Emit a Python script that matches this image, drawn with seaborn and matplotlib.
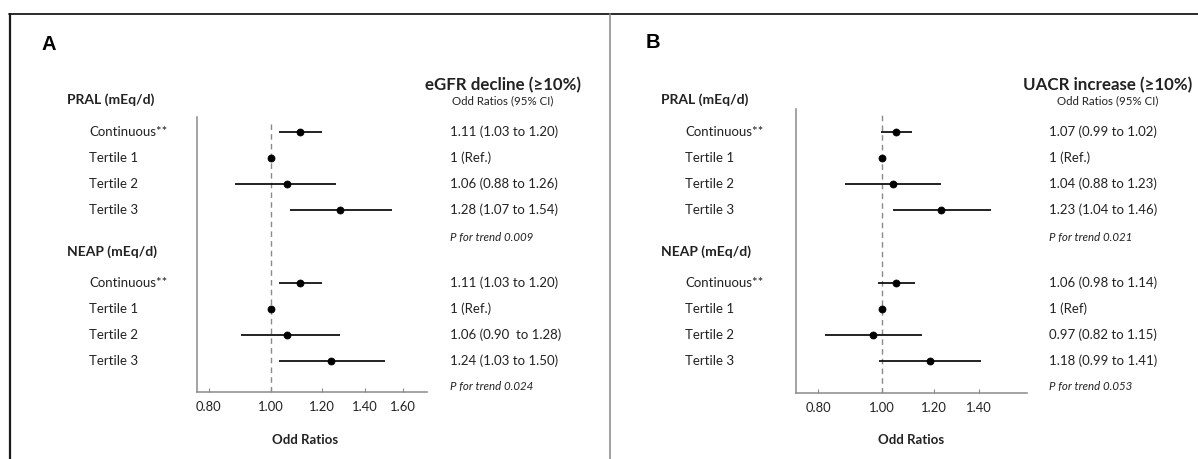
import numpy as np
import pandas as pd
import matplotlib
matplotlib.use('Agg')
import matplotlib.pyplot as plt
from matplotlib.lines import Line2D
import seaborn as sns

# veriler
row_labels = ['Continuous**', 'Tertile 1', 'Tertile 2', 'Tertile 3']
group_labels = ['PRAL (mEq/d)', 'NEAP (mEq/d)']

egfr_or = [1.11, 1.00, 1.06, 1.28, 1.11, 1.00, 1.06, 1.24]
egfr_lo = [1.03, np.nan, 0.88, 1.07, 1.03, np.nan, 0.90, 1.03]
egfr_hi = [1.20, np.nan, 1.26, 1.54, 1.20, np.nan, 1.28, 1.50]
egfr_txt = ['1.11 (1.03 to 1.20)', '1 (Ref.)', '1.06 (0.88 to 1.26)', '1.28 (1.07 to 1.54)',
            '1.11 (1.03 to 1.20)', '1 (Ref.)', '1.06 (0.90  to 1.28)', '1.24 (1.03 to 1.50)']
egfr_trend = ['P for trend 0.009', 'P for trend 0.024']
egfr_ticks = [0.80, 1.00, 1.20, 1.40, 1.60]

uacr_or = [1.05, 1.00, 1.04, 1.23, 1.05, 1.00, 0.97, 1.18]
uacr_lo = [0.995, np.nan, 0.88, 1.04, 0.985, np.nan, 0.82, 0.99]
uacr_hi = [1.11, np.nan, 1.23, 1.46, 1.12, np.nan, 1.15, 1.41]
uacr_txt = ['1.07 (0.99 to 1.02)', '1 (Ref.)', '1.04 (0.88 to 1.23)', '1.23 (1.04 to 1.46)',
            '1.06 (0.98 to 1.14)', '1 (Ref)', '0.97 (0.82 to 1.15)', '1.18 (0.99 to 1.41)']
uacr_trend = ['P for trend 0.021', 'P for trend 0.053']
uacr_ticks = [0.80, 1.00, 1.20, 1.40]

W, H = 1198, 459
sns.set_theme(style='ticks')
plt.rcParams['font.family'] = ['Lato', 'DejaVu Sans']
TXT = '#222222'
GRAY = '#8a8a8a'

# satir yerlesimi (1 birim = 26 px)
row_pos = [0, 1, 2, 3, 5.8, 6.8, 7.8, 8.8]
head_pos = [-1.23, 4.6]
trend_pos = [4.04, 9.77]


def fx(px):
    return px / W


def fy(py):
    return 1 - py / H


fig = plt.figure(figsize=(W / 100, H / 100), dpi=100)


def panel(geo, odds, lo, hi, texts, trends, ticks, letter, title):
    left, right, top, bottom, one_px, scale = geo['axis']
    ax = fig.add_axes([fx(left), fy(bottom), fx(right - left), (bottom - top) / H])
    ax.set_xscale('log')
    ax.set_xlim(np.exp((left - one_px) / scale), np.exp((right - one_px) / scale))
    ax.set_ylim((bottom - 132) / 26, (top - 132) / 26)

    df = pd.DataFrame({'pos': row_pos, 'odds': odds, 'lo': lo, 'hi': hi})
    ci = df.dropna()
    ax.hlines(ci['pos'], ci['lo'], ci['hi'], color='#111111', lw=1.3, zorder=2)
    sns.scatterplot(data=df, x='odds', y='pos', ax=ax, color='black', s=26,
                    edgecolor='black', linewidth=0.5, zorder=3, legend=False)
    ax.axvline(1.0, ymin=0, ymax=geo['dash'], color=GRAY, lw=1.0, ls=(0, (4, 3)), zorder=1)

    ax.set_xticks(ticks)
    ax.set_xticklabels(['%.2f' % t for t in ticks])
    ax.xaxis.set_minor_locator(matplotlib.ticker.NullLocator())
    ax.set_yticks([])
    ax.set_xlabel('')
    ax.set_ylabel('')
    ax.tick_params(axis='x', direction='in', length=3, width=0.8, color=GRAY,
                   labelsize=9.4, labelcolor=TXT, pad=6.5)
    sns.despine(ax=ax)
    for s in ['left', 'bottom']:
        ax.spines[s].set_color(GRAY)
        ax.spines[s].set_linewidth(1.1)

    ytr = ax.get_yaxis_transform()
    lab_x = (geo['label'] - left) / (right - left)
    head_x = (geo['head'] - left) / (right - left)
    val_x = (geo['value'] - left) / (right - left)
    for i, p in enumerate(row_pos):
        ax.text(lab_x, p, row_labels[i % 4], transform=ytr, ha='left', va='center',
                fontsize=9.5, color=TXT, clip_on=False)
        ax.text(val_x, p, texts[i], transform=ytr, ha='left', va='center',
                fontsize=9.5, color=TXT, clip_on=False)
    for g, p in zip(group_labels, head_pos):
        ax.text(head_x, p, g, transform=ytr, ha='left', va='center', fontsize=10,
                fontweight='bold', color=TXT, clip_on=False)
    for t, p in zip(trends, trend_pos):
        ax.text(val_x, p, t, transform=ytr, ha='left', va='center', fontsize=8.3,
                style='italic', color=TXT, clip_on=False)

    fig.text(fx(geo['letter'][0]), fy(geo['letter'][1]), letter, ha='left', va='center',
             fontsize=14.5, fontweight='bold', family=['Liberation Sans', 'DejaVu Sans'],
             color='black')
    fig.text(fx(geo['title']), fy(85), title, ha='center', va='center', fontsize=12.2,
             fontweight='bold', color=TXT)
    fig.text(fx(geo['title']), fy(101), 'Odd Ratios (95% CI)', ha='center', va='center',
             fontsize=8.3, color=TXT)
    fig.text(fx(geo['xlab']), fy(440), 'Odd Ratios', ha='center', va='center',
             fontsize=9.5, fontweight='bold', color=TXT)
    return ax


geo_a = {'axis': (197, 427, 117, 392, 271, 280), 'dash': 0.982, 'label': 89, 'head': 67,
         'value': 450, 'letter': (41, 45), 'title': 503, 'xlab': 305}
geo_b = {'axis': (796, 1027, 109, 393, 882, 287), 'dash': 0.986, 'label': 685, 'head': 661,
         'value': 1049, 'letter': (646, 43), 'title': 1108, 'xlab': 911}

panel(geo_a, egfr_or, egfr_lo, egfr_hi, egfr_txt, egfr_trend, egfr_ticks, 'A',
      'eGFR decline (≥10%)')
panel(geo_b, uacr_or, uacr_lo, uacr_hi, uacr_txt, uacr_trend, uacr_ticks, 'B',
      'UACR increase (≥10%)')

# cerceve cizgileri
fig.add_artist(Line2D([fx(9), 1], [fy(14), fy(14)], color='#1a1a1a', lw=1.3))
fig.add_artist(Line2D([fx(9.5), fx(9.5)], [0, fy(14)], color='#1a1a1a', lw=1.6))
fig.add_artist(Line2D([fx(610), fx(610)], [0, fy(14)], color='#8f8f8f', lw=1.2))

plt.savefig('out.png', dpi=100)
